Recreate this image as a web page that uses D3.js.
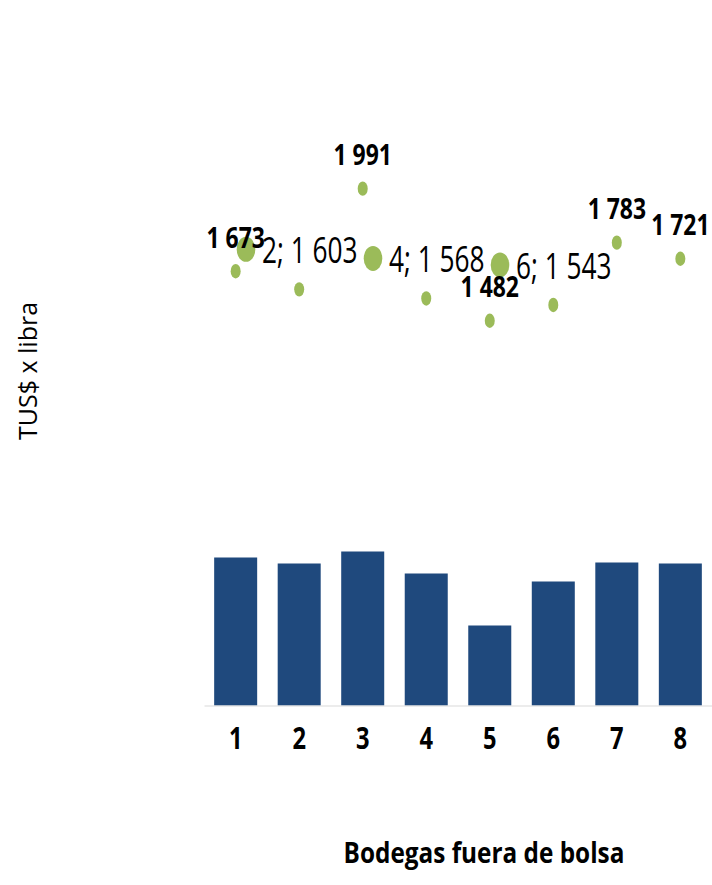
<!DOCTYPE html>
<html lang="es">
<head>
  <meta charset="UTF-8">
  <title>Bodegas fuera de bolsa</title>
  <style>
    body { margin: 0; background: #fff; }
    svg { display: block; }
    text { font-family: "Open Sans", sans-serif; fill: #000; }
  </style>
</head>
<body>
  <div class="canvas"></div>
  <script src="https://cdn.jsdelivr.net/npm/d3@7"></script>
  <script>
    // data
    const categories = [1, 2, 3, 4, 5, 6, 7, 8];
    const volumes = [74, 71, 77, 66, 40, 62, 71.5, 71];   // bars, no scale shown
    const prices = [1673, 1603, 1991, 1568, 1482, 1543, 1783, 1721];
    const bubbleX = [2, 4, 6];
    const bubbleValues = [1603, 1568, 1543];
    const yTitle = 'TUS$ x libra';
    const xTitle = 'Bodegas fuera de bolsa';

    const width = 712;
    const height = 885;
    const baseY = 705.5;

    const fmt = d3.formatLocale({ decimal: ',', thousands: ' ', grouping: [3], currency: ['', ''] }).format(',');

    const svg = d3.select('.canvas')
      .append('svg')
      .attr('width', width)
      .attr('height', height);

    const x = d3.scaleBand()
      .domain(categories)
      .range([204, 712])
      .paddingInner(0.323)
      .paddingOuter(0.16);

    const yBar = d3.scaleLinear().domain([0, 100]).range([baseY, baseY - 200]);
    const yPrice = d3.scaleLinear().domain([0, 2500]).range([baseY, baseY - 649]);
    // second series sits on its own (offset) axes
    const xBubble = d3.scaleLinear().domain([0, 8]).range([119, 627]);
    const yBubble = d3.scaleLinear().domain([0, 2500]).range([baseY - 40, baseY - 689]);

    const cx = c => x(c) + x.bandwidth() / 2;

    // bars
    svg.append('g')
      .selectAll('rect')
      .data(categories)
      .enter()
      .append('rect')
      .attr('x', d => x(d))
      .attr('width', x.bandwidth())
      .attr('y', (d, i) => yBar(volumes[i]))
      .attr('height', (d, i) => baseY - yBar(volumes[i]))
      .attr('fill', '#1f497d');

    // category axis
    const gXAxis = svg.append('g')
      .attr('transform', `translate(0, ${baseY})`)
      .call(d3.axisBottom(x).tickSize(0).tickSizeOuter(0).tickPadding(22));

    gXAxis.select('.domain').attr('stroke', '#d9d9d9');
    gXAxis.selectAll('text')
      .style('font-family', '"Open Sans", sans-serif')
      .style('font-size', '30px')
      .style('font-weight', 'bold')
      .attr('fill', '#000')
      .attr('transform', 'scale(0.79,1)');

    // price points
    svg.append('g')
      .selectAll('ellipse')
      .data(categories)
      .enter()
      .append('ellipse')
      .attr('cx', d => cx(d))
      .attr('cy', (d, i) => yPrice(prices[i]))
      .attr('rx', 5)
      .attr('ry', 7.2)
      .attr('fill', '#9bbb59');

    // bubbles
    svg.append('g')
      .selectAll('ellipse')
      .data(bubbleX)
      .enter()
      .append('ellipse')
      .attr('cx', d => xBubble(d))
      .attr('cy', (d, i) => yBubble(bubbleValues[i]))
      .attr('rx', 9.3)
      .attr('ry', 12.5)
      .attr('fill', '#9bbb59');

    svg.append('g')
      .selectAll('text')
      .data(bubbleX)
      .enter()
      .append('text')
      .attr('transform', (d, i) => `translate(${xBubble(d) + 16}, ${yBubble(bubbleValues[i]) + 14}) scale(0.73,1)`)
      .style('font-size', '36px')
      .text((d, i) => `${d}; ${fmt(bubbleValues[i])}`);

    // value labels (hidden where a bubble label takes the place)
    svg.append('g')
      .selectAll('text')
      .data(categories.filter(c => !bubbleX.includes(c)))
      .enter()
      .append('text')
      .attr('transform', d => `translate(${cx(d)}, ${yPrice(prices[d - 1]) - 23.5}) scale(0.79,1)`)
      .attr('text-anchor', 'middle')
      .style('font-size', '29px')
      .style('font-weight', 'bold')
      .text(d => fmt(prices[d - 1]));

    // titles
    svg.append('text')
      .attr('transform', 'translate(37, 371) rotate(-90)')
      .attr('text-anchor', 'middle')
      .style('font-size', '25px')
      .text(yTitle);

    svg.append('text')
      .attr('transform', 'translate(484, 863) scale(0.84,1)')
      .attr('text-anchor', 'middle')
      .style('font-size', '29px')
      .style('font-weight', 'bold')
      .text(xTitle);
  </script>
</body>
</html>
